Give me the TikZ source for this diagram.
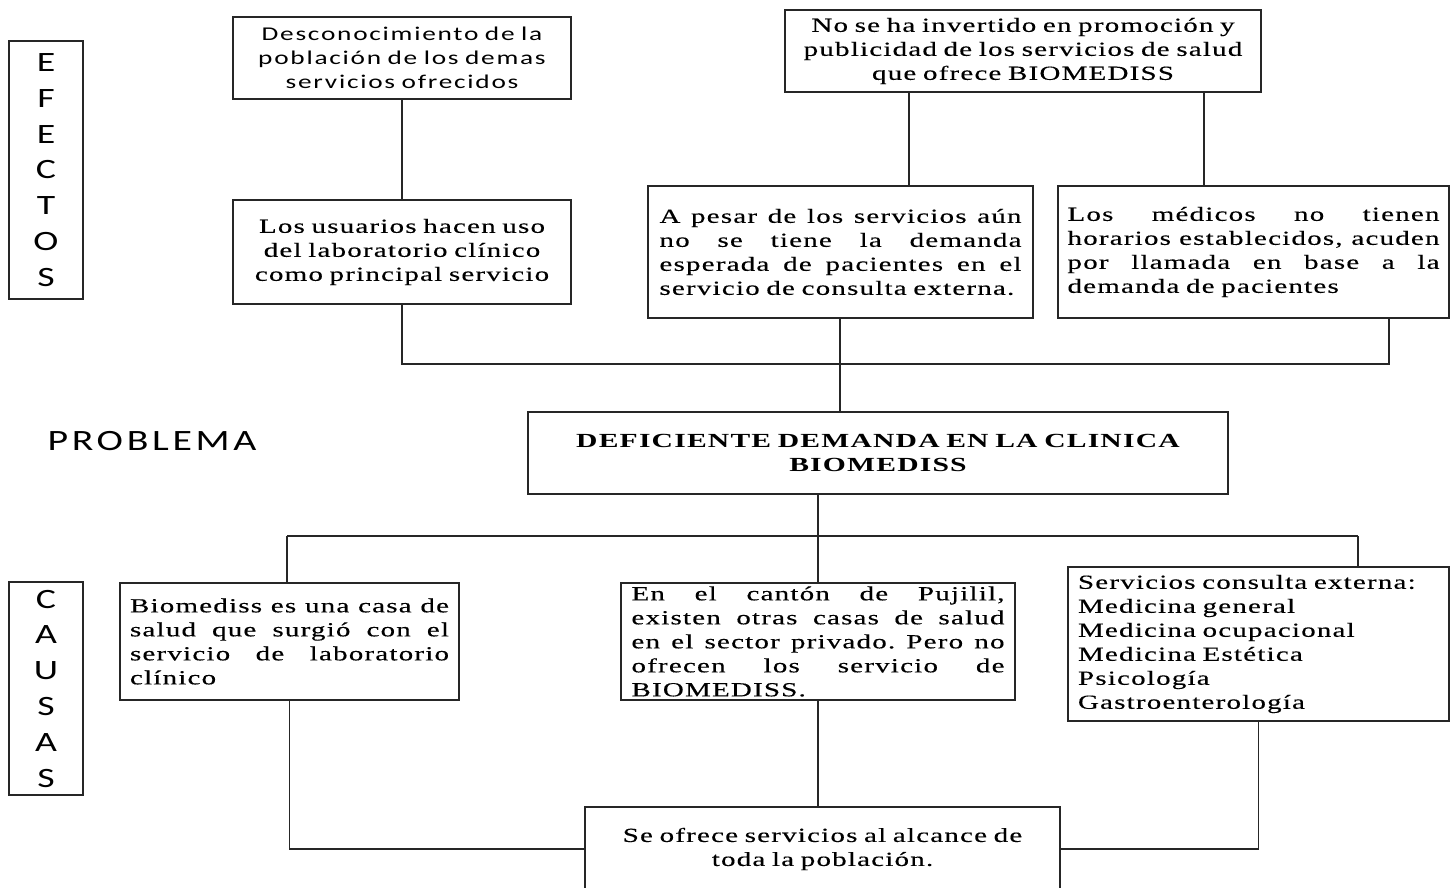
\documentclass[tikz,border=0pt]{standalone}
\usepackage{fontspec}
\newfontfamily\srf{Liberation Serif}[FakeStretch=1.45,LetterSpace=6,FakeBold=0.3]
\newfontfamily\srfb{Liberation Serif Bold}[FakeStretch=1.48,LetterSpace=6]
\newfontfamily\sns{Carlito}[FakeStretch=1.4,LetterSpace=9]
\newfontfamily\lbl{Carlito}[FakeStretch=1.35]
\newcommand\jl[2]{\makebox[#1][s]{\spaceskip=.3em plus 1fil\xspaceskip=.3em plus 1fil\relax #2}\\}
\tikzset{
  box/.style={draw=black!85, line width=1.2pt, inner sep=0pt, text=black,
    font=\srf\fontsize{20}{24}\selectfont},
  conn/.style={draw=black!85, line width=1.2pt},
  side/.style={draw=black!85, line width=1.2pt, inner sep=0pt, minimum width=74pt,
    align=center, font=\lbl\fontsize{28}{35.8}\selectfont},
}
\begin{document}
\begin{tikzpicture}[x=1pt,y=-1pt]
\useasboundingbox (0,0) rectangle (1451,887);
\clip (0,0) rectangle (1451,887);
\fill[white] (0,0) rectangle (1451,887);

% side labels
\node[side, minimum height=258pt] (efectos) at (46,170) {E\\F\\E\\C\\T\\O\\S};
\node[side, minimum height=213pt] (causas) at (46,688.5) {C\\A\\U\\S\\A\\S};
\node[font=\lbl\fontsize{29.5}{30}\selectfont\addfontfeature{LetterSpace=12.5}] (problema) at (152,441) {PROBLEMA};

% effects
\node[box, minimum width=338pt, minimum height=82pt, text width=318pt, align=center,
  font=\sns\fontsize{19.5}{24}\selectfont] (b1) at (402,58)
  {Desconocimiento de la\\población de los demas\\servicios ofrecidos};
\node[box, minimum width=338pt, minimum height=104pt, text width=318pt, align=center] (b2) at (402,252)
  {Los usuarios hacen uso\\del laboratorio clínico\\como principal servicio};
\node[box, minimum width=476pt, minimum height=82pt, text width=456pt, align=center] (b3) at (1023,51)
  {No se ha invertido en promoción y\\publicidad de los servicios de salud\\que ofrece BIOMEDISS};
\node[box, minimum width=385pt, minimum height=132pt, text width=362pt, align=left] (b4) at (840.5,252)
  {\jl{362pt}{A pesar de los servicios aún}\jl{362pt}{no se tiene la demanda}\jl{362pt}{esperada de pacientes en el}servicio de consulta externa.};
\node[box, minimum width=391pt, minimum height=132pt, text width=372pt, align=left] (b5) at (1253.5,252)
  {\jl{372pt}{Los médicos no tienen}\jl{372pt}{horarios establecidos, acuden}\jl{372pt}{por llamada en base a la}demanda de pacientes};

% problem
\node[box, minimum width=700pt, minimum height=82pt, text width=680pt, align=center,
  font=\srfb\fontsize{20}{24}\selectfont] (prob) at (878,453)
  {DEFICIENTE DEMANDA EN LA CLINICA\\BIOMEDISS};

% causes
\node[box, minimum width=339pt, minimum height=117pt, text width=319pt, align=left] (b6) at (289.5,641.5)
  {\jl{319pt}{Biomediss es una casa de}\jl{319pt}{salud que surgió con el}\jl{319pt}{servicio de laboratorio}clínico};
\node[box, minimum width=394pt, minimum height=117pt, text width=373pt, align=left] (b7) at (818,641.5)
  {\jl{373pt}{En el cantón de Pujilil,}\jl{373pt}{existen otras casas de salud}\jl{373pt}{en el sector privado. Pero no}\jl{373pt}{ofrecen los servicio de}BIOMEDISS.};
\node[box, minimum width=381pt, minimum height=154pt, text width=361pt, align=left] (b8) at (1258.5,644)
  {Servicios consulta externa:\\Medicina general\\Medicina ocupacional\\Medicina Estética\\Psicología\\Gastroenterología};
\node[box, minimum width=475pt, minimum height=84pt, text width=455pt, align=center] (b9) at (822.5,849)
  {Se ofrece servicios al alcance de\\toda la población.};

% connector helpers
\coordinate (k1) at (909,0);
\coordinate (k2) at (1204,0);
\coordinate (m1) at (840,0);
\coordinate (e1) at (402,364);
\coordinate (e2) at (1389,364);
\coordinate (c1) at (287,536);
\coordinate (c2) at (1358,536);

% effect connectors
\draw[conn] (b1.south) -- (b2.north);
\draw[conn] (b3.south -| k1) -- (b4.north -| k1);
\draw[conn] (b3.south -| k2) -- (b5.north -| k2);
\draw[conn] (b2.south) -- (e1) -- (e2) -- (b5.south -| e2);
\draw[conn] (b4.south -| m1) -- (prob.north -| m1);

% cause connectors
\draw[conn] (prob.south -| b7.north) -- (b7.north);
\draw[conn] (c1) -- (c2);
\draw[conn] (c1) -- (b6.north -| c1);
\draw[conn] (c2) -- (b8.north -| c2);
\draw[conn] (b6.south) -- (b6.south |- b9.west) -- (b9.west);
\draw[conn] (b7.south) -- (b7.south |- b9.north);
\draw[conn] (b8.south) -- (b8.south |- b9.east) -- (b9.east);
\end{tikzpicture}
\end{document}
